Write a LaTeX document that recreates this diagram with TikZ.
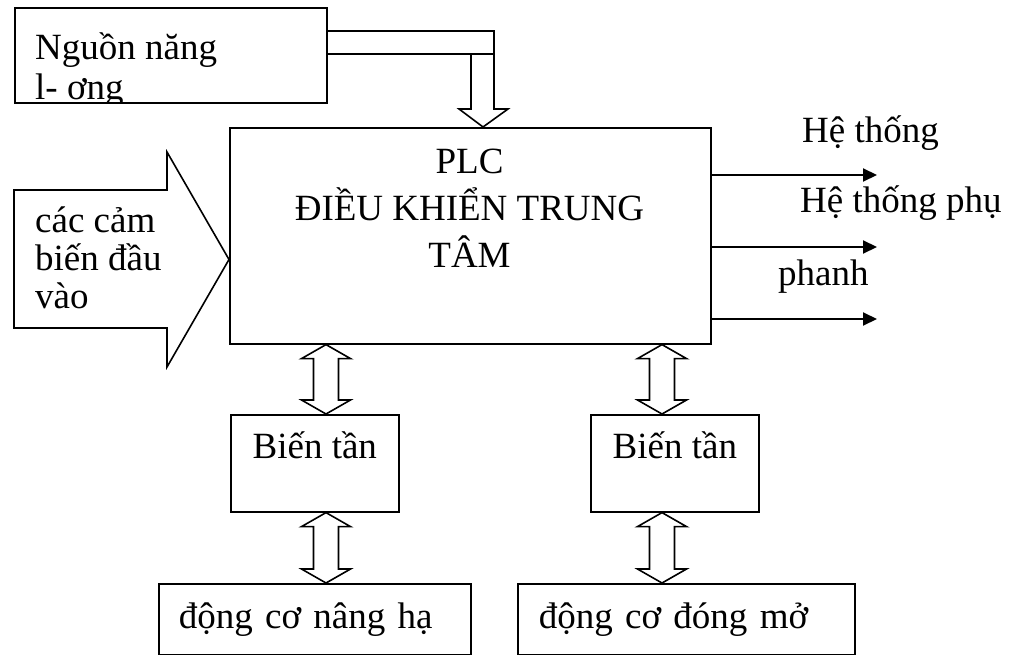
\documentclass[tikz,border=0pt]{standalone}
\usepackage{fontspec}
\setmainfont{Liberation Serif}
\usetikzlibrary{arrows.meta,calc,positioning}
\tikzset{
	% standard arrow tip
	>={Triangle[length=14pt,width=13pt]},
	% box style
	box/.style={
		rectangle,
		draw=black, line width=1.6pt,
		inner sep=0pt
	},
	% text style
	txt/.style={
		inner sep=0pt,
		font=\fontsize{37}{40}\selectfont
	},
	% hollow arrow style
	hollow/.style={
		draw=black, line width=1.6pt,
		line join=miter
	},
	% arrow style
	arrow/.style={
		->,
		line width=2pt
	}
}
% hollow double arrow, from a top point down to a bottom point
\newcommand{\udarrow}[2]{%
	\draw[hollow] let \p1=(#1), \p2=(#2) in
		(\x1,\y1) -- (\x1-24.5pt,\y1-14pt) -- (\x1-12.5pt,\y1-14pt)
		-- (\x1-12.5pt,\y2+14pt) -- (\x1-24.5pt,\y2+14pt) -- (\x2,\y2)
		-- (\x1+24.5pt,\y2+14pt) -- (\x1+12.5pt,\y2+14pt)
		-- (\x1+12.5pt,\y1-14pt) -- (\x1+24.5pt,\y1-14pt) -- cycle;}

\begin{document}
\begin{tikzpicture}[x=1pt, y=-1pt]
	\useasboundingbox (0,0) rectangle (1019,655);

	% boxes
	\node[box, minimum width=312pt, minimum height=95pt, anchor=north west] (nguon) at (14,7) {};
	\node[box, minimum width=481pt, minimum height=216pt, anchor=north west] (plc) at (229,127) {};
	\node[box, minimum width=168pt, minimum height=97pt, anchor=north west] (inv1) at (230,414) {};
	\node[box, minimum width=168pt, minimum height=97pt, anchor=north west] (inv2) at (590,414) {};
	\node[box, txt, inner xsep=20pt, text width=272pt, minimum height=71pt, align=left, anchor=north west] (motor1) at (158,583) {động cơ nâng hạ};
	\node[box, txt, inner xsep=21pt, text width=295pt, minimum height=71pt, align=left, anchor=north west] (motor2) at (517,583) {động cơ đóng mở};

	% texts
	\begin{scope}
		\clip (nguon.south west) rectangle (nguon.north east);
		\node[txt, anchor=base west] (nguon1) at (35,60) {Nguồn năng};
		\node[txt, anchor=base west] (nguon2) at (35,100) {l- ơng};
	\end{scope}
	\node[txt, font=\fontsize{37}{47}\selectfont, align=center, anchor=base] (plctxt) at (469.5,267)
		{PLC\\ĐIỀU KHIỂN TRUNG\\TÂM};
	\node[txt, anchor=base] (inv1txt) at ([yshift=-44pt]inv1.north) {Biến tần};
	\node[txt, anchor=base] (inv2txt) at ([yshift=-44pt]inv2.north) {Biến tần};

	% sensor input arrow
	\draw[hollow] (14,190) -- (167,190) -- (167,152) -- (229,259.5) -- (167,367) -- (167,328) -- (14,328) -- cycle;
	\node[txt, anchor=base west] (sens1) at (35,232) {các cảm};
	\node[txt, anchor=base west] (sens2) at (35,270) {biến đầu};
	\node[txt, anchor=base west] (sens3) at (35,308) {vào};

	% power supply pipe
	\coordinate (pwrin) at ($(plc.north west)+(254,0)$);
	\draw[hollow] ($(nguon.north east)+(0,24)$) -- (494,31) -- (494,109) -- (508,109) -- (pwrin)
		-- (459,109) -- (471,109) -- (471,54) -- ($(nguon.north east)+(0,47)$);
	\draw[hollow] (471,54) -- (494,54);

	% outputs
	\coordinate (out1) at (877,175);
	\coordinate (out2) at (877,247);
	\coordinate (out3) at (877,319);
	\foreach \o in {out1,out2,out3}
		\draw[arrow] (plc.east |- \o) -- (\o);
	\node[txt, anchor=base west] (sys1) at (802,143) {Hệ thống};
	\node[txt, anchor=base west] (sys2) at (800,212) {Hệ thống phụ};
	\node[txt, anchor=base west] (brake) at (778,285) {phanh};

	% links to the drives
	\coordinate (colL) at (326,0);
	\coordinate (colR) at (662,0);
	\udarrow{plc.south -| colL}{inv1.north -| colL}
	\udarrow{inv1.south -| colL}{motor1.north -| colL}
	\udarrow{plc.south -| colR}{inv2.north -| colR}
	\udarrow{inv2.south -| colR}{motor2.north -| colR}
\end{tikzpicture}
\end{document}
